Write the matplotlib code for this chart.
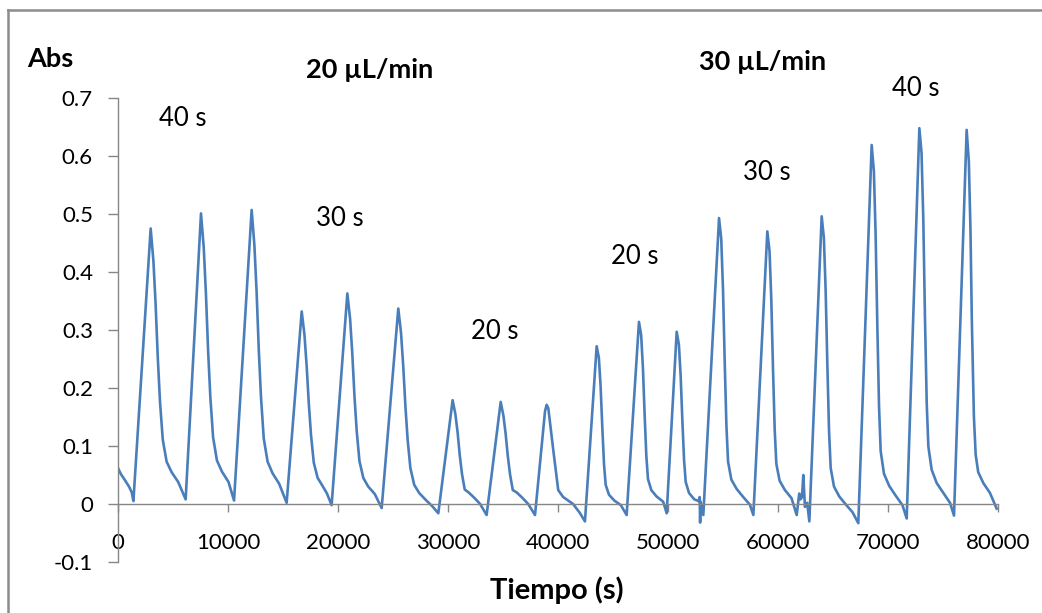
#!/usr/bin/env python3
"""Absorbance trace vs time, flow-injection peaks at 20 and 30 uL/min."""
import matplotlib
matplotlib.use("Agg")
import matplotlib.pyplot as plt
from matplotlib.lines import Line2D

# trace: one row per peak (peak top -> decay -> next valley)
time_s = [
    0, 250, 600, 1000, 1250, 1400,
    2970, 3220, 3420, 3620, 3820, 4070, 4420, 4870, 5470, 6150,
    7545, 7795, 7995, 8195, 8395, 8645, 8995, 9445, 10045, 10550,
    12150, 12400, 12600, 12800, 13000, 13250, 13600, 14050, 14650, 15330,
    16700, 16950, 17150, 17350, 17550, 17800, 18150, 18600, 19000, 19420,
    20850, 21100, 21300, 21500, 21700, 21950, 22300, 22750, 23350, 23970,
    25480, 25730, 25930, 26130, 26330, 26580, 26930, 27380, 27980, 28580, 29120,
    30420, 30670, 30870, 31070, 31270, 31520, 31870, 32320, 32920, 33510,
    34790, 35040, 35240, 35440, 35640, 35890, 36240, 36690, 37290, 37910,
    38820, 38970, 39120, 39570, 40020, 40470, 41370, 41970, 42450,
    43515, 43715, 43875, 44035, 44185, 44335, 44635, 45115, 45715, 46240,
    47360, 47560, 47720, 47880, 48030, 48180, 48480, 48960, 49560, 49880,
    50790, 50990, 51150, 51310, 51460, 51610, 51910, 52390, 52790, 52880, 52920, 52960, 53210,
    54640, 54840, 55000, 55160, 55310, 55460, 55760, 56240, 56840, 57440, 57760,
    59030, 59230, 59390, 59550, 59700, 59850, 60150, 60630, 61230, 61700,
    61930, 62050, 62180, 62300, 62450, 62650, 62850,
    63970, 64170, 64330, 64490, 64640, 64790, 65090, 65570, 66170, 66770, 67300,
    68515, 68715, 68875, 69035, 69185, 69335, 69635, 70115, 70715, 71315, 71700,
    72850, 73050, 73210, 73365, 73520, 73670, 73970, 74430, 75030, 75640, 76000,
    77150, 77350, 77500, 77620, 77810, 77970, 78200, 78670, 79270, 79880,
]
abs_au = [
    0.062, 0.052, 0.042, 0.030, 0.020, 0.005,
    0.475, 0.419, 0.344, 0.251, 0.176, 0.111, 0.073, 0.055, 0.038, 0.008,
    0.501, 0.442, 0.362, 0.263, 0.184, 0.115, 0.075, 0.056, 0.038, 0.006,
    0.507, 0.446, 0.366, 0.265, 0.184, 0.113, 0.073, 0.053, 0.035, 0.002,
    0.332, 0.292, 0.238, 0.172, 0.118, 0.071, 0.045, 0.031, 0.018, -0.002,
    0.363, 0.319, 0.259, 0.185, 0.126, 0.074, 0.045, 0.030, 0.017, -0.007,
    0.337, 0.295, 0.238, 0.168, 0.111, 0.062, 0.033, 0.019, 0.007, -0.004, -0.016,
    0.179, 0.155, 0.124, 0.084, 0.052, 0.025, 0.020, 0.012, 0.000, -0.019,
    0.176, 0.152, 0.121, 0.082, 0.051, 0.024, 0.020, 0.012, 0.000, -0.019,
    0.160, 0.171, 0.165, 0.093, 0.024, 0.012, 0.000, -0.015, -0.030,
    0.272, 0.252, 0.202, 0.129, 0.068, 0.033, 0.016, 0.006, -0.002, -0.019,
    0.314, 0.291, 0.235, 0.152, 0.083, 0.043, 0.024, 0.013, 0.004, -0.016,
    0.297, 0.275, 0.221, 0.142, 0.076, 0.038, 0.019, 0.008, 0.005, 0.012, -0.032, 0.004, -0.019,
    0.493, 0.457, 0.370, 0.242, 0.135, 0.073, 0.042, 0.026, 0.012, -0.001, -0.019,
    0.470, 0.436, 0.353, 0.230, 0.128, 0.069, 0.040, 0.024, 0.010, -0.019,
    0.018, 0.008, 0.012, 0.050, -0.005, 0.002, -0.030,
    0.496, 0.459, 0.369, 0.237, 0.126, 0.062, 0.030, 0.013, -0.001, -0.014, -0.033,
    0.619, 0.574, 0.464, 0.303, 0.168, 0.091, 0.052, 0.031, 0.014, -0.002, -0.025,
    0.648, 0.605, 0.490, 0.317, 0.174, 0.099, 0.059, 0.036, 0.019, 0.002, -0.020,
    0.645, 0.590, 0.470, 0.317, 0.150, 0.085, 0.055, 0.036, 0.019, -0.008,
]
assert len(time_s) == len(abs_au)

x_ticks = [0, 10000, 20000, 30000, 40000, 50000, 60000, 70000, 80000]
y_ticks = [-0.1, 0, 0.1, 0.2, 0.3, 0.4, 0.5, 0.6, 0.7]
y_tick_labels = ["-0.1", "0", "0.1", "0.2", "0.3", "0.4", "0.5", "0.6", "0.7"]

# annotations: (text, x, y) in data units
flow_labels = [("20 \u00b5L/min", 22900, 0.748), ("30 \u00b5L/min", 58630, 0.762)]
time_labels = [("40 s", 5910, 0.664), ("30 s", 20180, 0.493), ("20 s", 34270, 0.297),
               ("20 s", 47000, 0.426), ("30 s", 59000, 0.572), ("40 s", 72540, 0.716)]

plt.rcParams["font.family"] = ["Lato", "DejaVu Sans"]
plt.rcParams["axes.unicode_minus"] = False

W, H = 1042, 613
fig = plt.figure(figsize=(W / 100, H / 100), dpi=100)
ax = fig.add_axes([118 / W, 51 / H, 880 / W, 464 / H])

ax.plot(time_s, abs_au, color="#4A7EBB", lw=1.9, solid_joinstyle="round")
ax.set_xlim(0, 80000)
ax.set_ylim(-0.1, 0.7)
ax.set_xticks(x_ticks)
ax.set_xticklabels([str(v) for v in x_ticks])
ax.set_yticks(y_ticks)
ax.set_yticklabels(y_tick_labels)

axis_grey = "#868686"
for s in ("top", "right"):
    ax.spines[s].set_visible(False)
ax.spines["bottom"].set_position(("data", 0))
for s in ("left", "bottom"):
    ax.spines[s].set_color(axis_grey)
    ax.spines[s].set_linewidth(1.0)
ax.tick_params(axis="x", direction="out", length=6, width=1, color=axis_grey,
               labelsize=16, pad=15)
ax.tick_params(axis="y", direction="out", length=7, width=1, color=axis_grey,
               labelsize=16, pad=11)

for txt, x, y in flow_labels:
    ax.text(x, y, txt, ha="center", va="center", fontsize=19.5, fontweight="bold",
            clip_on=False)
for txt, x, y in time_labels:
    ax.text(x, y, txt, ha="center", va="center", fontsize=18.5, clip_on=False)
ax.text(-6180, 0.767, "Abs", ha="center", va="center", fontsize=19.5,
        fontweight="bold", clip_on=False)
fig.text(557 / W, 1 - 590 / H, "Tiempo (s)", ha="center", va="center",
         fontsize=21, fontweight="bold")

# outer chart-area frame (only top and left edges visible in the crop)
frame = "#8C8C8C"
fig.add_artist(Line2D([8 / W, 8 / W], [0, 1 - 10 / H], transform=fig.transFigure,
                      color=frame, lw=1.8))
fig.add_artist(Line2D([8 / W, 1], [1 - 10 / H, 1 - 10 / H], transform=fig.transFigure,
                      color=frame, lw=1.8))

fig.savefig("out.png", dpi=100)
